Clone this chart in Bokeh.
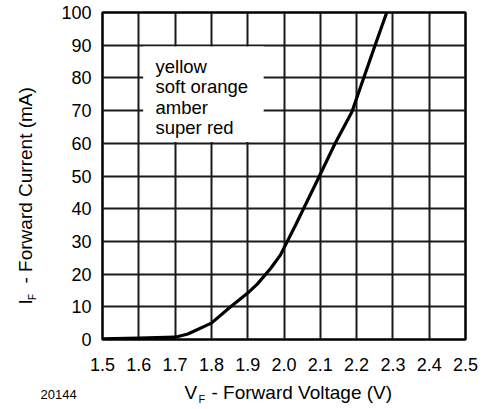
import math
from bokeh.plotting import figure
from bokeh.layouts import column, row
from bokeh.models import Range1d, FixedTicker, PrintfTickFormatter
from bokeh.embed import file_html
from bokeh.resources import INLINE
from bokeh.core.properties import value

# ---- data ----
voltage = [1.5, 1.6, 1.7, 1.735, 1.8, 1.853, 1.9, 1.927, 1.963, 1.99,
           2.032, 2.095, 2.141, 2.187, 2.219, 2.25, 2.283]
current = [0.2, 0.4, 0.7, 1.7, 5.0, 10.0, 14.2, 17.0, 21.7, 25.8,
           35.0, 49.4, 60.0, 69.6, 79.8, 89.7, 100.0]
x_ticks = [1.5, 1.6, 1.7, 1.8, 1.9, 2.0, 2.1, 2.2, 2.3, 2.4, 2.5]
y_ticks = [0, 10, 20, 30, 40, 50, 60, 70, 80, 90, 100]
legend_lines = ["yellow", "soft orange", "amber", "super red"]
x_label = ["V", "F", "- Forward Voltage (V)"]
y_label = ["I", "F", "- Forward Current (mA)"]
figure_id = "20144"

FONT = "Liberation Sans"
W, H = 484, 409
LEFT_W = 52          # width of the strip holding the y-axis title
MAIN_H = 382         # height of the main chart
BOTTOM_H = H - MAIN_H

# ---- main chart ----
p = figure(width=W - LEFT_W, height=MAIN_H, output_backend="svg",
           toolbar_location=None, title=None,
           x_range=Range1d(x_ticks[0], x_ticks[-1]),
           y_range=Range1d(y_ticks[0], y_ticks[-1]),
           min_border_left=50, min_border_right=19,
           min_border_top=12, min_border_bottom=43)
p.background_fill_color = "white"
p.border_fill_color = "white"
p.outline_line_color = "black"
p.outline_line_width = 2.5

for ax in (p.xaxis[0], p.yaxis[0]):
    ax.axis_line_color = None
    ax.major_tick_line_color = None
    ax.minor_tick_line_color = None
    ax.major_tick_out = 0
    ax.major_tick_in = 0
    ax.major_label_text_font = FONT
    ax.major_label_text_font_size = "18px"
    ax.major_label_text_color = "black"

p.xaxis[0].ticker = FixedTicker(ticks=x_ticks)
p.xaxis[0].formatter = PrintfTickFormatter(format="%.1f")
p.xaxis[0].major_label_standoff = 18
p.yaxis[0].ticker = FixedTicker(ticks=y_ticks)
p.yaxis[0].formatter = PrintfTickFormatter(format="%d")
p.yaxis[0].major_label_standoff = 11

p.xgrid.ticker = FixedTicker(ticks=x_ticks)
p.ygrid.ticker = FixedTicker(ticks=y_ticks)
for g in (p.xgrid[0], p.ygrid[0]):
    g.grid_line_color = "#1a1a1a"
    g.grid_line_width = 2

# white box behind the legend text
p.quad(left=[1.612], right=[1.944], bottom=[60.4], top=[89.6],
       fill_color="white", line_color=None)

# curve
p.line(voltage, current, line_color="black", line_width=3.2, line_join="round")

# legend text
lx = [1.646] * len(legend_lines)
ly = [83.4 - 6.15 * i for i in range(len(legend_lines))]
p.text(x=lx, y=ly, text=legend_lines, text_font=value(FONT),
       text_font_size="18.5px", text_color="black",
       text_align="left", text_baseline="alphabetic")


def strip(width, height):
    f = figure(frame_width=width, frame_height=height, output_backend="svg",
               toolbar_location=None, title=None,
               x_axis_type=None, y_axis_type=None,
               x_range=Range1d(0, width), y_range=Range1d(0, height),
               min_border_left=0, min_border_right=0,
               min_border_top=0, min_border_bottom=0)
    f.outline_line_color = None
    f.background_fill_color = "white"
    f.border_fill_color = "white"
    return f


def put(f, text, x, y, size, angle=0.0, baseline="alphabetic"):
    f.text(x=[x], y=[y], text=[text], text_font=value(FONT),
           text_font_size=size, text_color="black", angle=angle,
           text_align="left", text_baseline=baseline)


# ---- y-axis title strip (left), y measured from the strip's bottom ----
ly_fig = strip(LEFT_W, MAIN_H)
put(ly_fig, y_label[0], 25, MAIN_H - 292, "19px", angle=math.pi / 2)
put(ly_fig, y_label[1], 32, MAIN_H - 287.5, "10px", angle=math.pi / 2)
put(ly_fig, y_label[2], 25, MAIN_H - 271, "19px", angle=math.pi / 2)

# ---- x-axis title strip (bottom) ----
bx_fig = strip(W, BOTTOM_H)
put(bx_fig, x_label[0], 184, 17, "19px")
put(bx_fig, x_label[1], 198, 10.5, "11px")
put(bx_fig, x_label[2], 211, 17, "19px")
put(bx_fig, figure_id, 40, 15.5, "13px")

layout = column(row(ly_fig, p, spacing=0), bx_fig, spacing=0)

open("out.html", "w").write(file_html(layout, INLINE))
